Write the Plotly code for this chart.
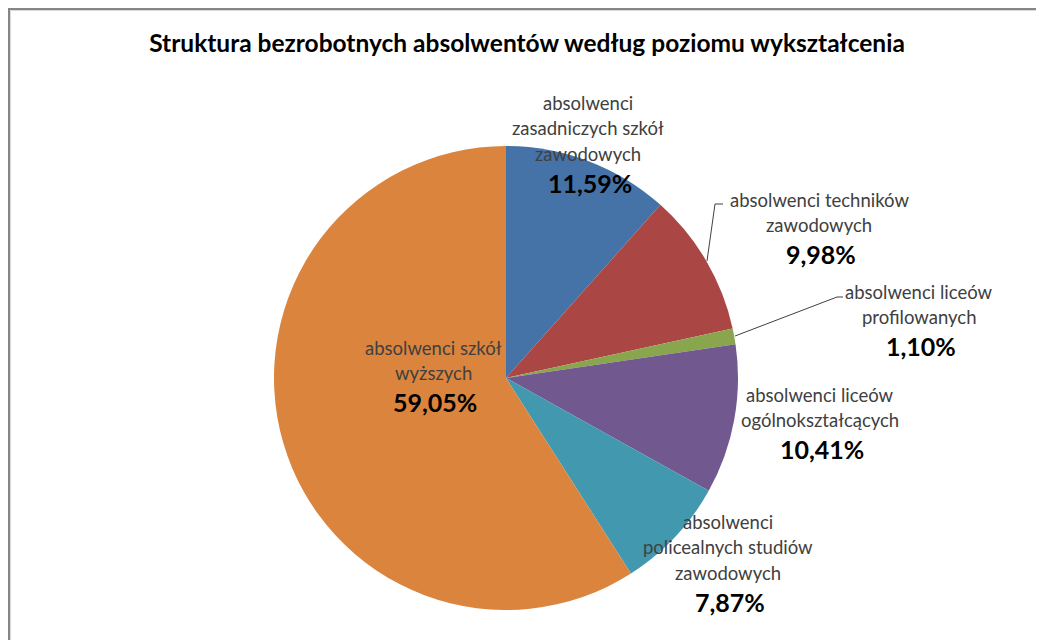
import plotly.graph_objects as go

categories = [
    "absolwenci<br>zasadniczych szkół<br>zawodowych",
    "absolwenci techników<br>zawodowych",
    "absolwenci liceów<br>profilowanych",
    "absolwenci liceów<br>ogólnokształcących",
    "absolwenci<br>policealnych studiów<br>zawodowych",
    "absolwenci szkół<br>wyższych",
]
values = [11.59, 9.98, 1.10, 10.41, 7.87, 59.05]
colors = ["#4572A7", "#AA4643", "#89A54E", "#71588F", "#4198AF", "#DB843D"]
title = "Struktura bezrobotnych absolwentów według poziomu wykształcenia"

W, H = 1044, 640
OFF = 8  # page body margin offset


def px(x):
    return (x - OFF) / W


def py(y):
    return 1 - (y - OFF) / H


cx, cy, r = 506, 378, 232

# label positions (screen px): center x, center y of first text line
label_pos = [(588, 103), (819, 200), (919, 292), (820, 395), (728, 522), (433, 348)]
LINE = 25.3
PCT_GAP = 29

fig = go.Figure(go.Pie(
    labels=[c.replace("<br>", " ") for c in categories],
    values=values,
    sort=False,
    direction="clockwise",
    rotation=0,
    marker=dict(colors=colors, line=dict(width=0)),
    textinfo="none",
    hoverinfo="label+percent",
    showlegend=False,
    domain=dict(x=[px(cx - r), px(cx + r)], y=[py(cy + r), py(cy - r)]),
))

FONT = "Lato, Open Sans, sans-serif"
annotations = []
for cat, val, (lx, ly) in zip(categories, values, label_pos):
    lines = cat.split("<br>")
    for i, line in enumerate(lines):
        annotations.append(dict(
            x=px(lx), y=py(ly + i * LINE), xref="paper", yref="paper",
            xanchor="center", yanchor="middle", showarrow=False,
            text=line, font=dict(family=FONT, size=18.5, color="#404040"),
        ))
    pct = f"{val:.2f}".replace(".", ",") + "%"
    annotations.append(dict(
        x=px(lx + 2), y=py(ly + (len(lines) - 1) * LINE + PCT_GAP), xref="paper", yref="paper",
        xanchor="center", yanchor="middle", showarrow=False,
        text=f"<b>{pct}</b>", font=dict(family=FONT, size=25, color="#000000"),
    ))

shapes = [
    # border
    dict(type="line", xref="paper", yref="paper", x0=0, x1=1.0, y0=1 - 1 / H, y1=1 - 1 / H,
         line=dict(color="#868686", width=2)),
    dict(type="line", xref="paper", yref="paper", x0=1 / W, x1=1 / W, y0=0, y1=1,
         line=dict(color="#868686", width=2)),
    dict(type="line", xref="paper", yref="paper", x0=2.5 / W, x1=1.0, y0=1 - 2.5 / H, y1=1 - 2.5 / H,
         line=dict(color="#D9D9D9", width=1)),
    dict(type="line", xref="paper", yref="paper", x0=2.5 / W, x1=2.5 / W, y0=0, y1=1 - 2.5 / H,
         line=dict(color="#D9D9D9", width=1)),
    # leader lines
    dict(type="path", xref="paper", yref="paper",
         path=f"M {px(707)} {py(261)} L {px(715)} {py(204)} L {px(723)} {py(204)}",
         line=dict(color="#404040", width=1)),
    dict(type="path", xref="paper", yref="paper",
         path=f"M {px(735)} {py(336)} L {px(837)} {py(297)} L {px(843)} {py(297)}",
         line=dict(color="#404040", width=1)),
]

fig.update_layout(
    width=W, height=H,
    margin=dict(l=0, r=0, t=0, b=0),
    paper_bgcolor="white", plot_bgcolor="white",
    title=dict(text=f"<b>{title}</b>", x=px(527), xanchor="center", y=py(43), yanchor="middle",
               font=dict(family=FONT, size=24.5, color="#000000")),
    annotations=annotations,
    shapes=shapes,
)

fig.write_html("out.html")
